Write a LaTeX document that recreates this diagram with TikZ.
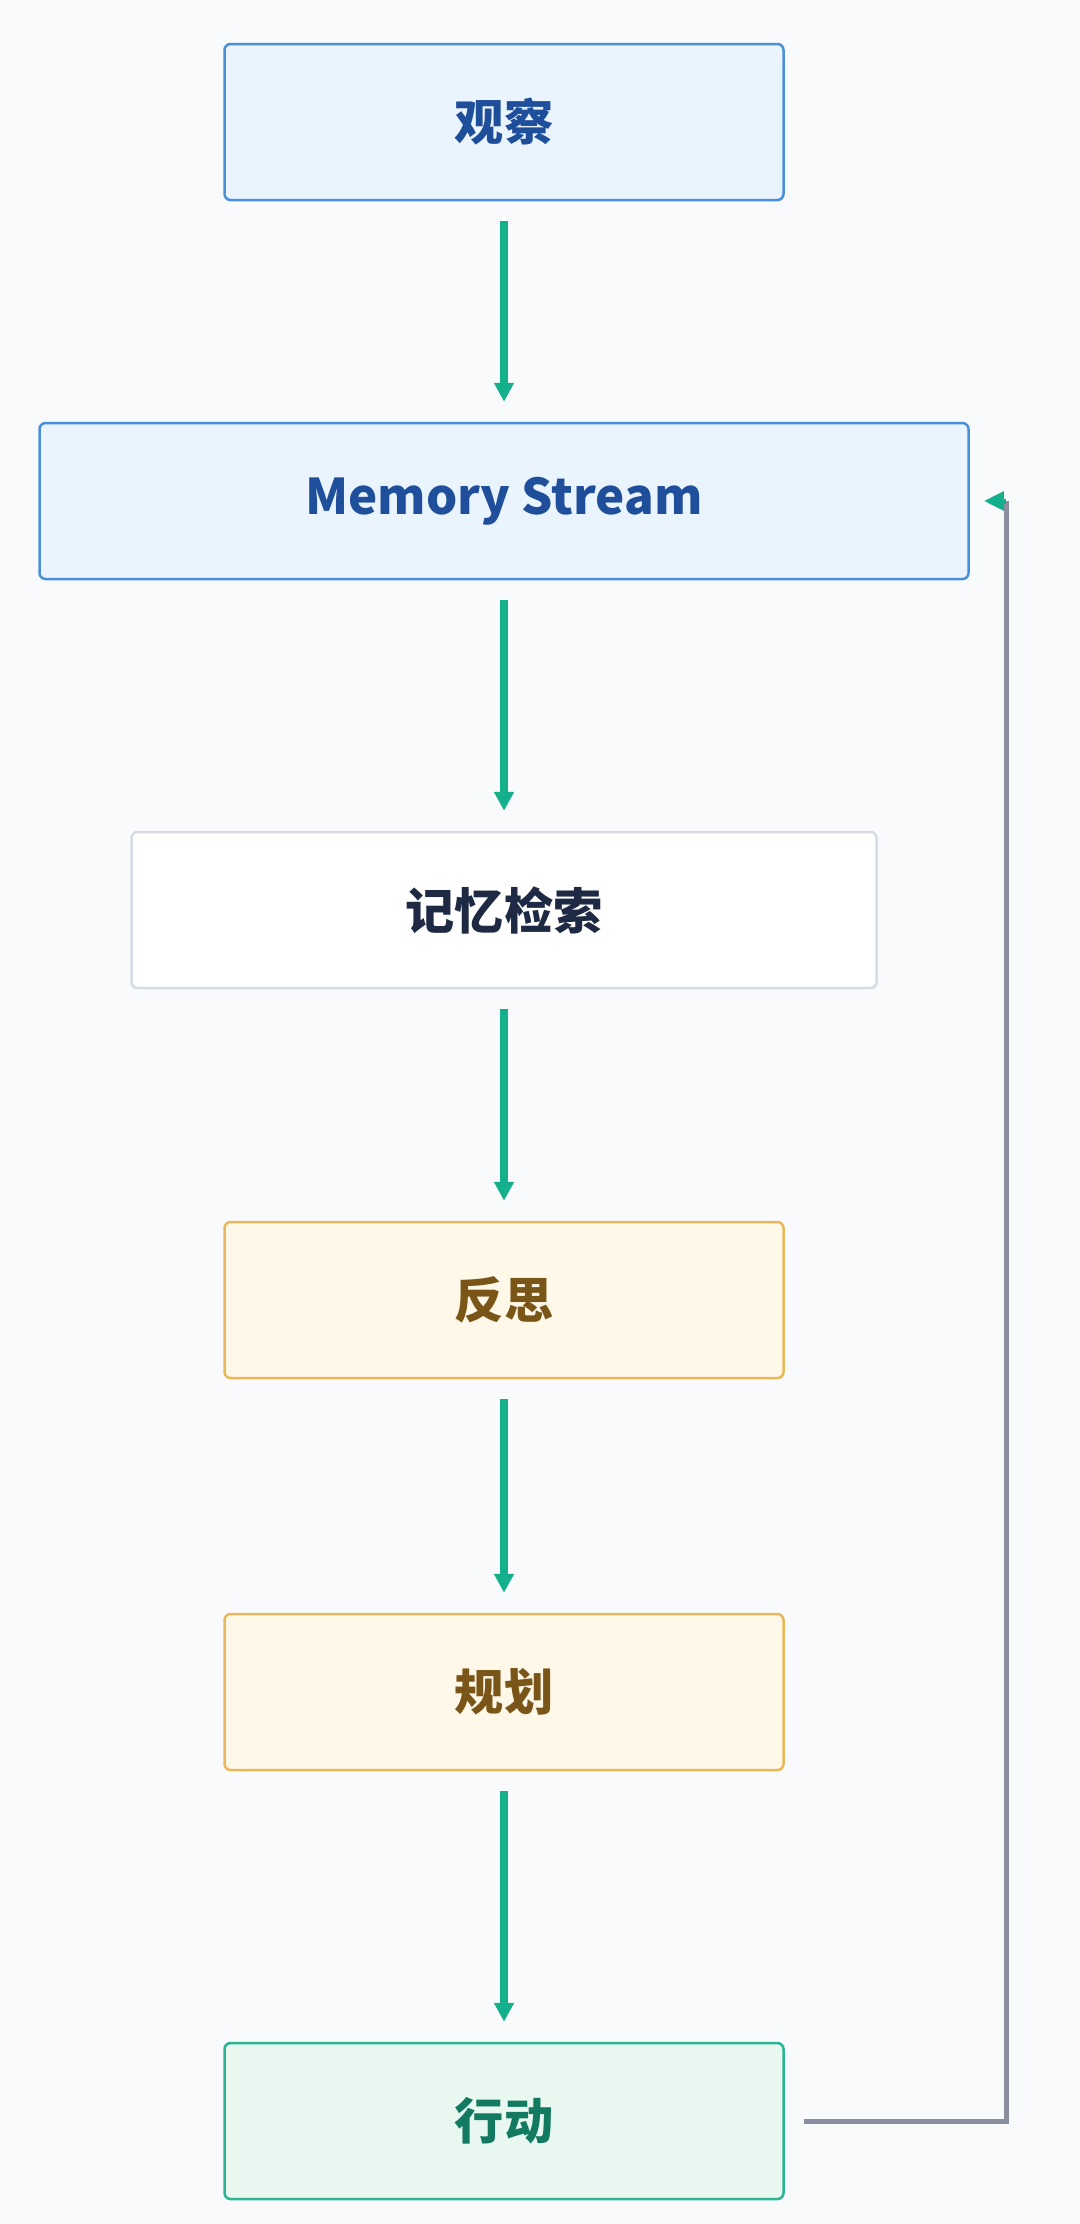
\documentclass[tikz,border=0pt]{standalone}
\usepackage{fontspec}
\setmainfont{Noto Sans CJK SC}
\usetikzlibrary{positioning,arrows.meta}
\definecolor{bgc}{HTML}{F8FAFC}
\definecolor{bluefill}{HTML}{EAF4FE}
\definecolor{blueline}{HTML}{4A90D9}
\definecolor{bluetext}{HTML}{1F4E9A}
\definecolor{grayline}{HTML}{D6DCE4}
\definecolor{navytext}{HTML}{1E2A44}
\definecolor{orangefill}{HTML}{FFF7E8}
\definecolor{orangeline}{HTML}{E8B85A}
\definecolor{browntext}{HTML}{7A5518}
\definecolor{greenfill}{HTML}{E8F7F0}
\definecolor{greenline}{HTML}{2BB594}
\definecolor{greentext}{HTML}{137A62}
\definecolor{arrowc}{HTML}{14B08C}
\definecolor{loopc}{HTML}{8A8FA0}

\begin{document}
\begin{tikzpicture}[b/.style={draw,rounded corners=0.12cm,line width=0.05cm,align=center,minimum width=11.18cm,minimum height=3.12cm,font=\fontsize{28}{32}\selectfont\bfseries},
blue/.style={b,fill=bluefill,draw=blueline,text=bluetext},
plain/.style={b,fill=white,draw=grayline,text=navytext},
warm/.style={b,fill=orangefill,draw=orangeline,text=browntext},
act/.style={b,fill=greenfill,draw=greenline,text=greentext},
a/.style={-{Triangle[width=0.38cm,length=0.38cm]},line width=0.15cm,draw=arrowc,shorten <=0.4cm,shorten >=0.4cm}]
\fill[bgc](0,0)rectangle(21.6,-44.48);
\useasboundingbox(0,0)rectangle(21.6,-44.48);
\node[blue](obs)at(10.08,-2.44){观察};
\node[blue,below=4.41cm of obs,minimum width=18.58cm](mem){Memory Stream};
\node[plain,below=5.01cm of mem,minimum width=14.9cm](ret){记忆检索};
\node[warm,below=4.63cm of ret](refl){反思};
\node[warm,below=4.67cm of refl](plan){规划};
\node[act,below=5.41cm of plan](act){行动};
\foreach \a/\b in {obs/mem,mem/ret,ret/refl,refl/plan,plan/act}\draw[a](\a)--(\b);
\coordinate(back)at(20.12,0|-mem.east);
\draw[loopc,line width=0.1cm]([xshift=0.38cm]act.east)-|(back);
\draw[arrowc,line width=0.1cm,-{Triangle[width=0.36cm,length=0.4cm]}](back)--([xshift=0.28cm]mem.east);
\end{tikzpicture}
\end{document}
